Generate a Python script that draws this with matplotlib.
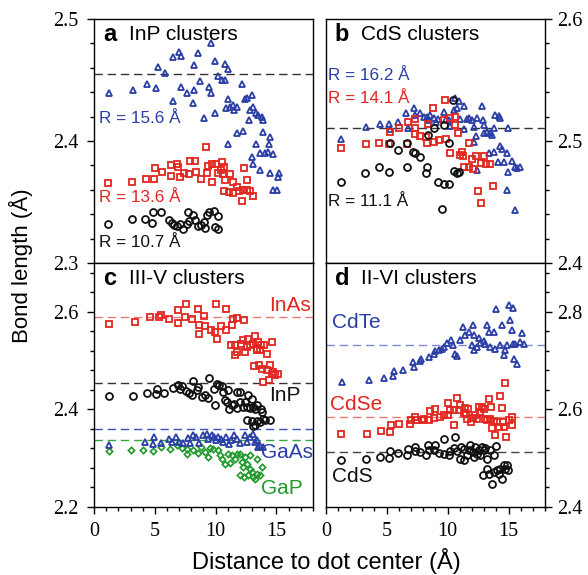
import matplotlib.pyplot as plt
from matplotlib.ticker import MultipleLocator, FormatStrFormatter

plt.rcParams['font.family'] = ['Liberation Sans', 'DejaVu Sans']

BLUE = '#2a3ea6'
RED = '#e2261f'
BLACK = '#111111'
GREEN = '#1f9a2a'

# ---- panel a: InP clusters ----
a_156_x = [1.23, 3.24, 4.33, 5.10, 5.24, 5.84, 6.53, 7.02, 7.13, 6.53, 7.16, 7.68, 8.23, 8.23, 8.59, 8.72,
           8.12, 9.49, 9.60, 9.60, 9.96, 9.08, 9.96, 10.23, 10.51, 10.78, 10.78, 11.06, 11.06, 10.86, 11.19,
           11.41, 11.55, 11.74, 12.15, 12.43, 12.62, 13.03, 12.84, 13.11, 13.31, 13.53, 13.80, 13.94, 12.78,
           12.29, 11.74, 11.06, 13.31, 13.88, 14.49, 14.43, 13.66, 14.07, 14.35, 14.71, 12.98, 13.06, 13.66,
           14.49, 15.25, 15.17, 14.76, 15.03]
a_156_y = [2.4396, 2.4418, 2.4464, 2.4432, 2.4609, 2.4560, 2.4686, 2.4727, 2.4697, 2.4331, 2.4440, 2.4396,
           2.4418, 2.4623, 2.4719, 2.4495, 2.4309, 2.4445, 2.4801, 2.4391, 2.4656, 2.4186, 2.4227, 2.4533,
           2.4500, 2.4500, 2.4631, 2.4590, 2.4342, 2.4273, 2.4281, 2.4295, 2.4254, 2.4281, 2.4464, 2.4342,
           2.4350, 2.4377, 2.4254, 2.4276, 2.4232, 2.4213, 2.4199, 2.4172, 2.4172, 2.4085, 2.4063, 2.3975,
           2.3975, 2.4077, 2.4036, 2.3975, 2.3904, 2.3899, 2.3907, 2.3893, 2.3866, 2.3811, 2.3762, 2.3735,
           2.3740, 2.3708, 2.3598, 2.3598]
a_136_x = [1.18, 3.16, 4.25, 4.94, 6.34, 5.02, 5.62, 6.34, 6.86, 6.94, 7.08, 7.41, 7.85, 7.90, 8.31, 8.40,
           8.81, 9.27, 9.36, 9.22, 9.68, 9.74, 10.04, 10.23, 10.51, 10.45, 10.64, 10.78, 10.73, 11.19, 10.73,
           11.14, 11.47, 11.74, 11.47, 11.96, 12.29, 12.37, 12.62, 12.62, 12.84, 13.11, 12.15]
a_136_y = [2.3653, 2.3661, 2.3691, 2.3686, 2.3713, 2.3776, 2.3743, 2.3803, 2.3811, 2.3790, 2.3708, 2.3735,
           2.3730, 2.3836, 2.3839, 2.3743, 2.3689, 2.3740, 2.3798, 2.3954, 2.3661, 2.3811, 2.3809, 2.3735,
           2.3825, 2.3762, 2.3730, 2.3680, 2.3784, 2.3730, 2.3593, 2.3585, 2.3667, 2.3620, 2.3571, 2.3593,
           2.3598, 2.3776, 2.3680, 2.3598, 2.3590, 2.3549, 2.3508]
a_107_x = [1.18, 3.10, 4.20, 4.88, 4.80, 5.51, 6.20, 6.39, 6.58, 6.86, 7.08, 7.35, 7.63, 7.82, 7.76, 8.18,
           8.31, 8.59, 8.81, 9.05, 9.14, 9.27, 9.49, 9.88, 10.23, 9.96, 10.23]
a_107_y = [2.3317, 2.3361, 2.3361, 2.3415, 2.3325, 2.3415, 2.3352, 2.3325, 2.3311, 2.3303, 2.3320, 2.3279,
           2.3320, 2.3344, 2.3415, 2.3393, 2.3352, 2.3303, 2.3311, 2.3333, 2.3284, 2.3393, 2.3415, 2.3429,
           2.3385, 2.3298, 2.3276]
a_bulk = 2.455

# ---- panel b: CdS clusters ----
b_162_x = [1.23, 3.32, 4.47, 5.21, 5.29, 5.97, 6.60, 6.71, 7.26, 7.34, 7.75, 8.08, 8.30, 8.44, 8.58, 8.85,
           9.07, 9.18, 9.73, 9.89, 10.08, 10.22, 10.49, 10.58, 10.77, 11.04, 10.90, 11.37, 11.59, 11.37, 11.73,
           12.00, 12.19, 12.41, 12.36, 12.19, 12.82, 12.90, 12.96, 13.01, 13.23, 13.51, 13.64, 13.86, 14.19,
           14.33, 13.84, 14.93, 13.37, 13.78, 14.33, 14.47, 14.88, 14.11, 14.60, 15.29, 15.56, 15.70, 15.92,
           14.93, 14.88, 15.56, 12.41]
b_162_y = [2.5014, 2.5112, 2.5139, 2.5139, 2.5096, 2.5158, 2.5227, 2.5109, 2.5268, 2.5213, 2.5227, 2.5194,
           2.5194, 2.5172, 2.5213, 2.5186, 2.5158, 2.5178, 2.5240, 2.5178, 2.5172, 2.5123, 2.5254, 2.5350,
           2.5268, 2.5178, 2.5328, 2.5287, 2.5180, 2.5096, 2.5186, 2.5172, 2.5118, 2.5186, 2.5041, 2.4995,
           2.5287, 2.5172, 2.5131, 2.5068, 2.5076, 2.5063, 2.5049, 2.5213, 2.5205, 2.5186, 2.5109, 2.5109,
           2.4899, 2.4910, 2.4959, 2.4934, 2.4899, 2.4831, 2.4831, 2.4836, 2.4790, 2.4776, 2.4784, 2.4749,
           2.4598, 2.4434, 2.4762]
b_141_x = [1.23, 3.29, 4.41, 5.21, 5.29, 6.03, 6.66, 6.74, 7.29, 7.34, 7.34, 7.75, 8.25, 8.30, 8.36, 8.85,
           8.77, 9.26, 9.75, 9.67, 9.86, 10.22, 10.16, 10.63, 10.58, 10.85, 10.99, 11.18, 11.26, 11.73, 11.37,
           11.78, 12.00, 12.08, 12.33, 12.77, 13.01, 13.15, 13.45, 12.47, 12.77, 13.70]
b_141_y = [2.4940, 2.4975, 2.4986, 2.4975, 2.5071, 2.5109, 2.4975, 2.5158, 2.5180, 2.5104, 2.5055, 2.5041,
           2.5036, 2.4986, 2.5139, 2.4995, 2.5268, 2.5008, 2.5336, 2.5172, 2.5014, 2.5186, 2.4904, 2.5194,
           2.5131, 2.5063, 2.4885, 2.4913, 2.4877, 2.4981, 2.4790, 2.4790, 2.4850, 2.4768, 2.4877, 2.4817,
           2.4877, 2.4809, 2.4809, 2.4590, 2.4495, 2.4631]
b_111_x = [1.23, 3.23, 4.38, 5.15, 5.29, 5.89, 6.66, 6.66, 7.15, 7.34, 7.75, 8.30, 8.25, 8.36, 9.21, 9.73,
           10.08, 9.53, 10.08, 10.49, 10.77, 10.90, 8.85, 9.73, 10.44]
b_111_y = [2.4667, 2.4735, 2.4790, 2.4743, 2.4981, 2.4926, 2.4790, 2.4981, 2.4913, 2.4899, 2.4866, 2.4790,
           2.4735, 2.5049, 2.4667, 2.4648, 2.4648, 2.4443, 2.4986, 2.4757, 2.4735, 2.4749, 2.5109, 2.5131,
           2.5336]
b_bulk = 2.511

# ---- panel c: III-V clusters ----
c_inas_x = [1.26, 3.37, 4.61, 5.35, 5.51, 6.17, 6.94, 6.94, 7.57, 7.49, 8.04, 8.59, 8.67, 8.67, 9.08, 9.14,
            9.60, 10.04, 9.96, 10.10, 10.43, 10.86, 10.86, 11.33, 11.41, 11.80, 12.37, 11.25, 11.60, 11.60,
            11.74, 12.07, 12.29, 12.43, 12.57, 12.70, 12.84, 13.11, 13.25, 13.39, 13.53, 13.66, 13.72, 13.99,
            14.27, 14.62, 13.20, 13.58, 13.80, 14.21, 14.49, 14.62, 14.76, 14.90, 15.17, 14.43, 13.88, 13.39]
c_inas_y = [2.5743, 2.5790, 2.5893, 2.5893, 2.5927, 2.5859, 2.6043, 2.5770, 2.6166, 2.5893, 2.5859, 2.6064,
            2.5722, 2.5538, 2.5907, 2.5708, 2.5619, 2.6166, 2.5585, 2.5448, 2.5708, 2.6064, 2.5619, 2.5722,
            2.5859, 2.5873, 2.5825, 2.5325, 2.5325, 2.5120, 2.5175, 2.5346, 2.5414, 2.5175, 2.5277, 2.5448,
            2.5325, 2.5346, 2.5503, 2.5243, 2.5380, 2.5223, 2.5325, 2.5311, 2.5141, 2.5380, 2.4888, 2.4902,
            2.4833, 2.4799, 2.4915, 2.4730, 2.4765, 2.4697, 2.4730, 2.4594, 2.4560, 2.5209]
c_inp_x = [1.23, 3.18, 4.33, 5.10, 5.16, 5.76, 6.53, 6.89, 7.08, 7.22, 7.54, 7.85, 8.18, 8.45, 8.04, 8.59,
           8.86, 9.14, 9.41, 9.49, 9.88, 9.96, 10.10, 10.29, 10.56, 10.64, 10.78, 10.92, 11.06, 11.14, 11.33,
           11.55, 11.74, 11.74, 12.02, 12.02, 12.24, 12.43, 12.57, 12.70, 12.84, 12.98, 13.11, 13.25, 13.39,
           13.72, 13.80, 12.57, 12.98, 13.06, 13.25, 13.39, 13.66, 13.94, 14.07, 14.49]
c_inp_y = [2.4265, 2.4265, 2.4334, 2.4307, 2.4409, 2.4334, 2.4436, 2.4491, 2.4409, 2.4470, 2.4368, 2.4334,
           2.4573, 2.4402, 2.4286, 2.4457, 2.4252, 2.4286, 2.4231, 2.4641, 2.4423, 2.4081, 2.4525, 2.4491,
           2.4470, 2.4354, 2.4183, 2.4149, 2.4388, 2.3998, 2.4094, 2.4115, 2.4354, 2.4026, 2.4354, 2.4149,
           2.4046, 2.4149, 2.4046, 2.4286, 2.4026, 2.4204, 2.4046, 2.3998, 2.4081, 2.3998, 2.3943, 2.3786,
           2.3758, 2.3655, 2.3683, 2.3758, 2.3737, 2.3806, 2.3772, 2.3772]
c_gaas_x = [1.23, 4.20, 4.94, 4.88, 5.51, 6.20, 6.39, 6.75, 7.02, 7.35, 7.76, 7.90, 8.18, 8.40, 8.67, 9.00,
            9.27, 9.41, 9.68, 9.88, 10.04, 10.23, 10.45, 10.64, 10.86, 11.14, 11.28, 11.52, 11.74, 12.02, 12.43,
            12.57, 12.84, 13.11, 13.25, 13.39, 13.53, 13.66, 13.94]
c_gaas_y = [2.3274, 2.3329, 2.3432, 2.3295, 2.3308, 2.3397, 2.3329, 2.3432, 2.3329, 2.3308, 2.3418, 2.3315,
            2.3466, 2.3432, 2.3315, 2.3466, 2.3500, 2.3397, 2.3466, 2.3432, 2.3363, 2.3432, 2.3397, 2.3329,
            2.3432, 2.3295, 2.3363, 2.3466, 2.3397, 2.3308, 2.3466, 2.3329, 2.3432, 2.3500, 2.3329, 2.3363,
            2.3226, 2.3247, 2.3226]
c_gap_x = [1.23, 3.05, 4.06, 4.83, 5.51, 6.26, 6.86, 7.22, 7.63, 7.68, 8.12, 8.59, 8.81, 9.14, 9.41, 9.55,
           9.82, 10.23, 10.37, 10.56, 10.78, 11.06, 11.19, 11.33, 11.60, 11.74, 12.02, 12.15, 12.24, 12.43,
           12.57, 12.02, 12.35, 12.70, 12.84, 12.98, 13.11, 13.25, 13.39, 13.66, 13.80, 12.84, 13.39]
c_gap_y = [2.3137, 2.3158, 2.3171, 2.3137, 2.3226, 2.3192, 2.3260, 2.3206, 2.3192, 2.3089, 2.3158, 2.3103,
           2.3226, 2.3123, 2.3021, 2.3206, 2.3192, 2.3158, 2.3055, 2.2986, 2.2884, 2.3089, 2.2904, 2.3055,
           2.2986, 2.3089, 2.3089, 2.2918, 2.2815, 2.3021, 2.2884, 2.2645, 2.2611, 2.2645, 2.2782, 2.2714,
           2.2611, 2.2577, 2.2679, 2.2645, 2.2815, 2.3055, 2.2986]
c_bulk = {'InAs': 2.589, 'InP': 2.454, 'GaAs': 2.359, 'GaP': 2.336}

# ---- panel d: II-VI clusters ----
d_cdte_x = [1.32, 3.56, 4.74, 5.51, 5.62, 6.38, 7.21, 7.15, 7.70, 7.84, 8.44, 8.85, 8.99, 9.26, 9.53, 9.67,
            9.95, 10.27, 10.44, 10.63, 10.77, 10.99, 11.26, 11.45, 11.73, 12.08, 12.19, 12.00, 12.19, 12.41,
            12.55, 12.68, 12.96, 13.10, 13.23, 13.37, 13.78, 13.51, 13.92, 14.33, 14.47, 14.60, 14.74, 14.88,
            15.15, 15.29, 15.37, 15.42, 15.70, 14.00, 15.01, 15.37, 15.97, 16.11, 16.25, 15.56]
d_cdte_y = [2.6560, 2.6594, 2.6642, 2.6683, 2.6778, 2.6799, 2.6867, 2.6970, 2.6984, 2.7039, 2.7073, 2.7141,
            2.7189, 2.7210, 2.7244, 2.7278, 2.7367, 2.7415, 2.7326, 2.7141, 2.7093, 2.7415, 2.7688, 2.7531,
            2.7586, 2.7723, 2.7517, 2.7312, 2.7210, 2.7278, 2.7462, 2.7367, 2.7394, 2.7346, 2.7723, 2.7586,
            2.7586, 2.7278, 2.7244, 2.7312, 2.7723, 2.7107, 2.7210, 2.7312, 2.7825, 2.7620, 2.7346, 2.7039,
            2.6936, 2.8064, 2.8132, 2.8077, 2.7381, 2.7572, 2.7346, 2.7346]
d_cdse_x = [1.26, 3.37, 4.52, 5.29, 5.37, 6.03, 6.88, 6.99, 7.34, 7.48, 7.89, 8.03, 8.44, 8.58, 8.85, 8.99,
            9.34, 9.67, 10.00, 10.00, 10.22, 10.49, 10.49, 10.77, 10.90, 11.04, 11.32, 11.45, 11.53, 11.59,
            11.67, 11.92, 12.08, 12.27, 12.41, 12.55, 12.68, 12.82, 12.96, 13.10, 13.23, 13.37, 13.45, 13.56,
            13.64, 13.78, 13.92, 14.05, 14.19, 14.33, 14.47, 14.55, 14.60, 14.74, 14.82, 15.01, 15.29, 15.29]
d_cdse_y = [2.5485, 2.5500, 2.5547, 2.5534, 2.5684, 2.5705, 2.5705, 2.5773, 2.5842, 2.5773, 2.5773, 2.5807,
            2.5773, 2.5958, 2.5821, 2.6012, 2.5842, 2.5876, 2.5889, 2.6129, 2.5979, 2.5671, 2.5979, 2.6232,
            2.5979, 2.6081, 2.5931, 2.6026, 2.5910, 2.5807, 2.6012, 2.5739, 2.5821, 2.5876, 2.5807, 2.6047,
            2.5944, 2.6047, 2.6012, 2.5807, 2.5773, 2.6204, 2.5794, 2.6047, 2.5615, 2.5752, 2.5465, 2.5739,
            2.5636, 2.6273, 2.6026, 2.5739, 2.5636, 2.6546, 2.5431, 2.5773, 2.5670, 2.5842]
d_cds_x = [1.23, 3.29, 4.47, 5.21, 5.29, 5.89, 6.66, 6.71, 7.29, 7.34, 7.75, 8.25, 8.36, 8.44, 8.85, 8.99,
           9.26, 9.73, 9.73, 10.08, 10.22, 10.49, 10.63, 10.77, 10.99, 11.10, 11.32, 11.37, 11.59, 11.73,
           11.86, 12.08, 12.14, 12.27, 12.41, 12.55, 12.68, 12.82, 12.96, 13.10, 13.23, 13.51, 13.78, 14.00,
           12.90, 13.23, 13.37, 13.64, 13.78, 14.05, 14.19, 14.33, 14.47, 14.60, 14.74, 14.88, 14.96]
d_cds_y = [2.4953, 2.4987, 2.5021, 2.5001, 2.5138, 2.5110, 2.5069, 2.5192, 2.5227, 2.5138, 2.5124, 2.5069,
           2.5261, 2.5158, 2.5172, 2.5261, 2.5110, 2.5398, 2.5090, 2.5055, 2.5138, 2.5206, 2.5432, 2.5138,
           2.4987, 2.5227, 2.4953, 2.5192, 2.5055, 2.5158, 2.5261, 2.5124, 2.5021, 2.5227, 2.5090, 2.5158,
           2.5055, 2.5227, 2.5158, 2.5206, 2.4987, 2.5158, 2.5069, 2.5247, 2.4645, 2.4782, 2.4679, 2.4474,
           2.4713, 2.4748, 2.4679, 2.4782, 2.4576, 2.4850, 2.4782, 2.4850, 2.4748]
d_bulk = {'CdTe': 2.731, 'CdSe': 2.584, 'CdS': 2.512}

fig = plt.figure(figsize=(5.88, 5.75), dpi=100)
ax_a = fig.add_axes([0.160, 0.5426, 0.372, 0.4244])
ax_b = fig.add_axes([0.554, 0.5426, 0.373, 0.4244])
ax_c = fig.add_axes([0.160, 0.1188, 0.372, 0.4238])
ax_d = fig.add_axes([0.554, 0.1188, 0.373, 0.4238])

tri = dict(marker='^', ls='none', mfc='none', ms=5.0, mew=1.3)
sq = dict(marker='s', ls='none', mfc='none', ms=4.5, mew=1.3)
circ = dict(marker='o', ls='none', mfc='none', ms=5.0, mew=1.3)
dia = dict(marker='D', ls='none', mfc='none', ms=3.2, mew=1.2)
dash = dict(ls=(0, (6, 3.5)), lw=1.0)

# a
ax_a.axhline(a_bulk, color='#333333', **dash)
ax_a.plot(a_156_x, a_156_y, mec=BLUE, **tri)
ax_a.plot(a_136_x, a_136_y, mec=RED, **sq)
ax_a.plot(a_107_x, a_107_y, mec=BLACK, **circ)
ax_a.set_ylim(2.3, 2.5)

# b
ax_b.axhline(b_bulk, color='#333333', **dash)
ax_b.plot(b_162_x, b_162_y, mec=BLUE, **tri)
ax_b.plot(b_141_x, b_141_y, mec=RED, **sq)
ax_b.plot(b_111_x, b_111_y, mec=BLACK, **circ)
ax_b.set_ylim(2.4, 2.6)

# c
ax_c.axhline(c_bulk['InAs'], color='#f07a72', **dash)
ax_c.axhline(c_bulk['InP'], color='#333333', **dash)
ax_c.axhline(c_bulk['GaAs'], color='#3a4fc0', **dash)
ax_c.axhline(c_bulk['GaP'], color='#2fa83a', **dash)
ax_c.plot(c_inas_x, c_inas_y, mec=RED, **sq)
ax_c.plot(c_inp_x, c_inp_y, mec=BLACK, **circ)
ax_c.plot(c_gap_x, c_gap_y, mec=GREEN, **dia)
ax_c.plot(c_gaas_x, c_gaas_y, mec=BLUE, **tri)
ax_c.set_ylim(2.2, 2.7)

# d
ax_d.axhline(d_bulk['CdTe'], color='#7c8ad6', **dash)
ax_d.axhline(d_bulk['CdSe'], color='#f07a72', **dash)
ax_d.axhline(d_bulk['CdS'], color='#444444', **dash)
ax_d.plot(d_cdte_x, d_cdte_y, mec=BLUE, **tri)
ax_d.plot(d_cdse_x, d_cdse_y, mec=RED, **sq)
ax_d.plot(d_cds_x, d_cds_y, mec=BLACK, **circ)
ax_d.set_ylim(2.4, 2.9)

for ax in (ax_a, ax_b, ax_c, ax_d):
    ax.set_xlim(0, 18)
    for s in ax.spines.values():
        s.set_linewidth(1.0)
    ax.tick_params(which='both', direction='out', width=1.0,
                   labelsize=14.5, labelfontfamily='Liberation Serif')
    ax.tick_params(which='major', length=5)
    ax.tick_params(which='minor', length=2.8)
    ax.tick_params(axis='x', pad=6)
    ax.xaxis.set_major_locator(MultipleLocator(5))
    ax.xaxis.set_minor_locator(MultipleLocator(1))
    ax.yaxis.set_major_formatter(FormatStrFormatter('%.1f'))

for ax in (ax_a, ax_b):
    ax.yaxis.set_major_locator(MultipleLocator(0.1))
    ax.yaxis.set_minor_locator(MultipleLocator(0.02))
    ax.tick_params(axis='x', which='both', bottom=False, labelbottom=False)
for ax in (ax_c, ax_d):
    ax.yaxis.set_major_locator(MultipleLocator(0.2))
    ax.yaxis.set_minor_locator(MultipleLocator(0.04))
for ax in (ax_a, ax_c):
    ax.tick_params(axis='y', which='both', left=True, right=False, labelleft=True, pad=6)
for ax in (ax_b, ax_d):
    ax.tick_params(axis='y', which='both', left=False, right=True, labelleft=False,
                   labelright=True, pad=4)

# panel titles
for ax, letter, title in ((ax_a, 'a', 'InP clusters'), (ax_b, 'b', 'CdS clusters'),
                          (ax_c, 'c', 'III-V clusters'), (ax_d, 'd', 'II-VI clusters')):
    ax.text(0.04, 0.935, letter, transform=ax.transAxes, fontsize=17, fontweight='bold',
            ha='left', va='center')
    ax.text(0.16, 0.935, title, transform=ax.transAxes, fontsize=15, ha='left', va='center')

lab = dict(fontsize=12.3, ha='left', va='center')
ax_a.text(0.022, 0.594, 'R = 15.6 Å', color=BLUE, transform=ax_a.transAxes, **lab)
ax_a.text(0.022, 0.27, 'R = 13.6 Å', color=RED, transform=ax_a.transAxes, **lab)
ax_a.text(0.022, 0.086, 'R = 10.7 Å', color=BLACK, transform=ax_a.transAxes, **lab)
ax_b.text(0.01, 0.77, 'R = 16.2 Å', color=BLUE, transform=ax_b.transAxes, **lab)
ax_b.text(0.01, 0.674, 'R = 14.1 Å', color=RED, transform=ax_b.transAxes, **lab)
ax_b.text(0.01, 0.25, 'R = 11.1 Å', color=BLACK, transform=ax_b.transAxes, **lab)

lab2 = dict(fontsize=15, va='center')
ax_c.text(0.99, 0.827, 'InAs', color=RED, ha='right', transform=ax_c.transAxes, **lab2)
ax_c.text(0.945, 0.455, 'InP', color=BLACK, ha='right', transform=ax_c.transAxes, **lab2)
ax_c.text(1.0, 0.222, 'GaAs', color=BLUE, ha='right', transform=ax_c.transAxes, **lab2)
ax_c.text(0.955, 0.076, 'GaP', color=GREEN, ha='right', transform=ax_c.transAxes, **lab2)
ax_d.text(0.03, 0.755, 'CdTe', color=BLUE, ha='left', transform=ax_d.transAxes, **lab2)
ax_d.text(0.02, 0.42, 'CdSe', color=RED, ha='left', transform=ax_d.transAxes, **lab2)
ax_d.text(0.03, 0.123, 'CdS', color=BLACK, ha='left', transform=ax_d.transAxes, **lab2)

fig.text(21 / 588, 1 - 266 / 575, 'Bond length (Å)', rotation=90, fontsize=16,
         ha='center', va='center')
fig.text(326 / 588, 1 - 561 / 575, 'Distance to dot center (Å)', fontsize=17,
         ha='center', va='center')

fig.savefig('out.png', dpi=100)
